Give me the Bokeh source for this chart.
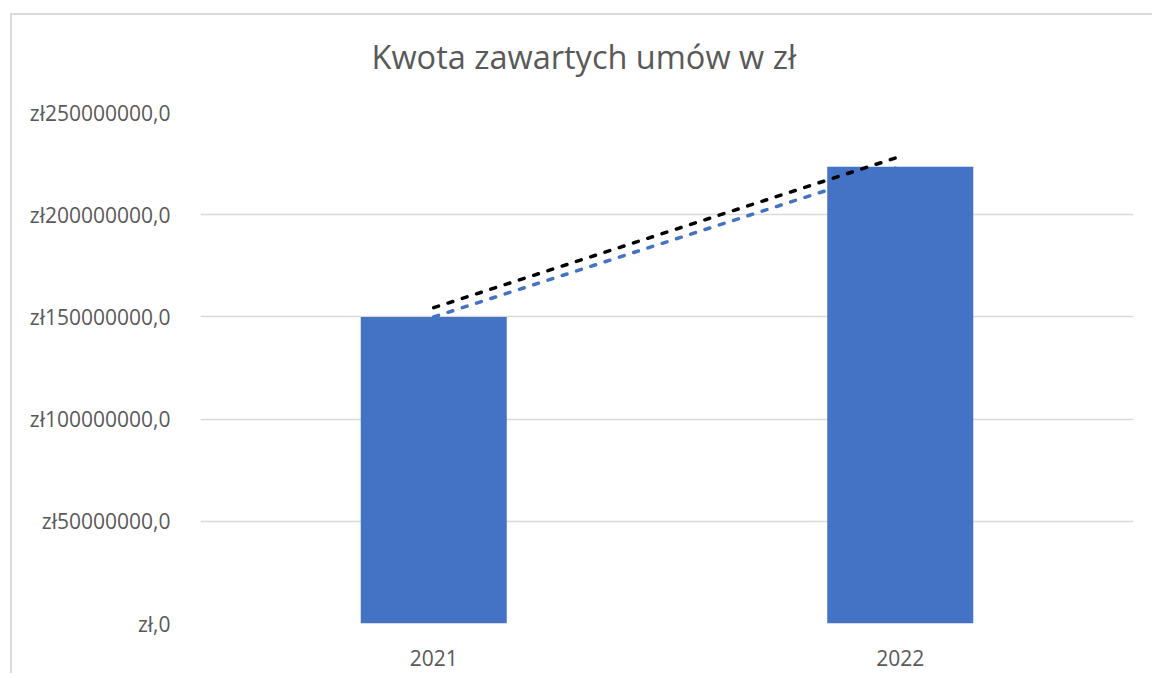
from bokeh.plotting import figure
from bokeh.models import FactorRange, Range1d, CustomJSTickFormatter, Title
from bokeh.embed import file_html
from bokeh.resources import INLINE

# Data
years = ["2021", "2022"]
amounts = [150000000, 223500000]
trend_blue = [150000000, 223500000]
trend_black = [154500000, 228500000]
y_ticks = [0, 50000000, 100000000, 150000000, 200000000, 250000000]
title_text = "Kwota zawartych umów w zł"

FONT = "Open Sans"
TXT = "#595959"

p = figure(
    width=1142, height=660,
    x_range=FactorRange(*years, range_padding=0),
    y_range=Range1d(0, 250000000),
    output_backend="svg", toolbar_location=None, tools="",
    min_border_left=188, min_border_right=21, min_border_top=97, min_border_bottom=52,
)
p.title = None
# spacer between the frame and the title
p.add_layout(Title(text=" ", text_font_size="1px", standoff=21), "above")
p.add_layout(Title(text=title_text, align="left", offset=171, text_font=FONT,
                   text_font_size="32.5px", text_font_style="normal", text_color=TXT,
                   standoff=20), "above")

p.outline_line_color = None
p.background_fill_color = "white"
p.border_fill_color = "white"
p.margin = (13, 0, 0, 10)
p.styles = {"border-left": "2px solid #D9D9D9", "border-top": "2px solid #D9D9D9"}

# grid
p.xgrid.grid_line_color = None
p.ygrid.grid_line_color = "#D9D9D9"
p.ygrid.grid_line_width = 1.5

# trendline under bars
p.line(x=years, y=trend_blue, line_color="#4472C4", line_width=3.5,
       line_dash="5 10", line_cap="round")

p.vbar(x=years, top=amounts, width=0.313, fill_color="#4472C4", line_color=None)

p.line(x=years, y=trend_black, line_color="#000000", line_width=3.5,
       line_dash="5 10", line_cap="round")

# axes
p.yaxis.ticker = y_ticks
p.yaxis.formatter = CustomJSTickFormatter(code="""
    return 'zł' + (tick == 0 ? '' : tick.toFixed(0)) + ',0';
""")
for ax in (p.xaxis, p.yaxis):
    ax.axis_line_color = None
    ax.major_tick_line_color = None
    ax.minor_tick_line_color = None
    ax.major_tick_out = 0
    ax.major_tick_in = 0
    ax.major_label_text_font = FONT
    ax.major_label_text_font_size = "21px"
    ax.major_label_text_color = TXT
p.yaxis.major_label_standoff = 30
p.xaxis.major_label_standoff = 26

open("out.html", "w").write(file_html(p, INLINE))
